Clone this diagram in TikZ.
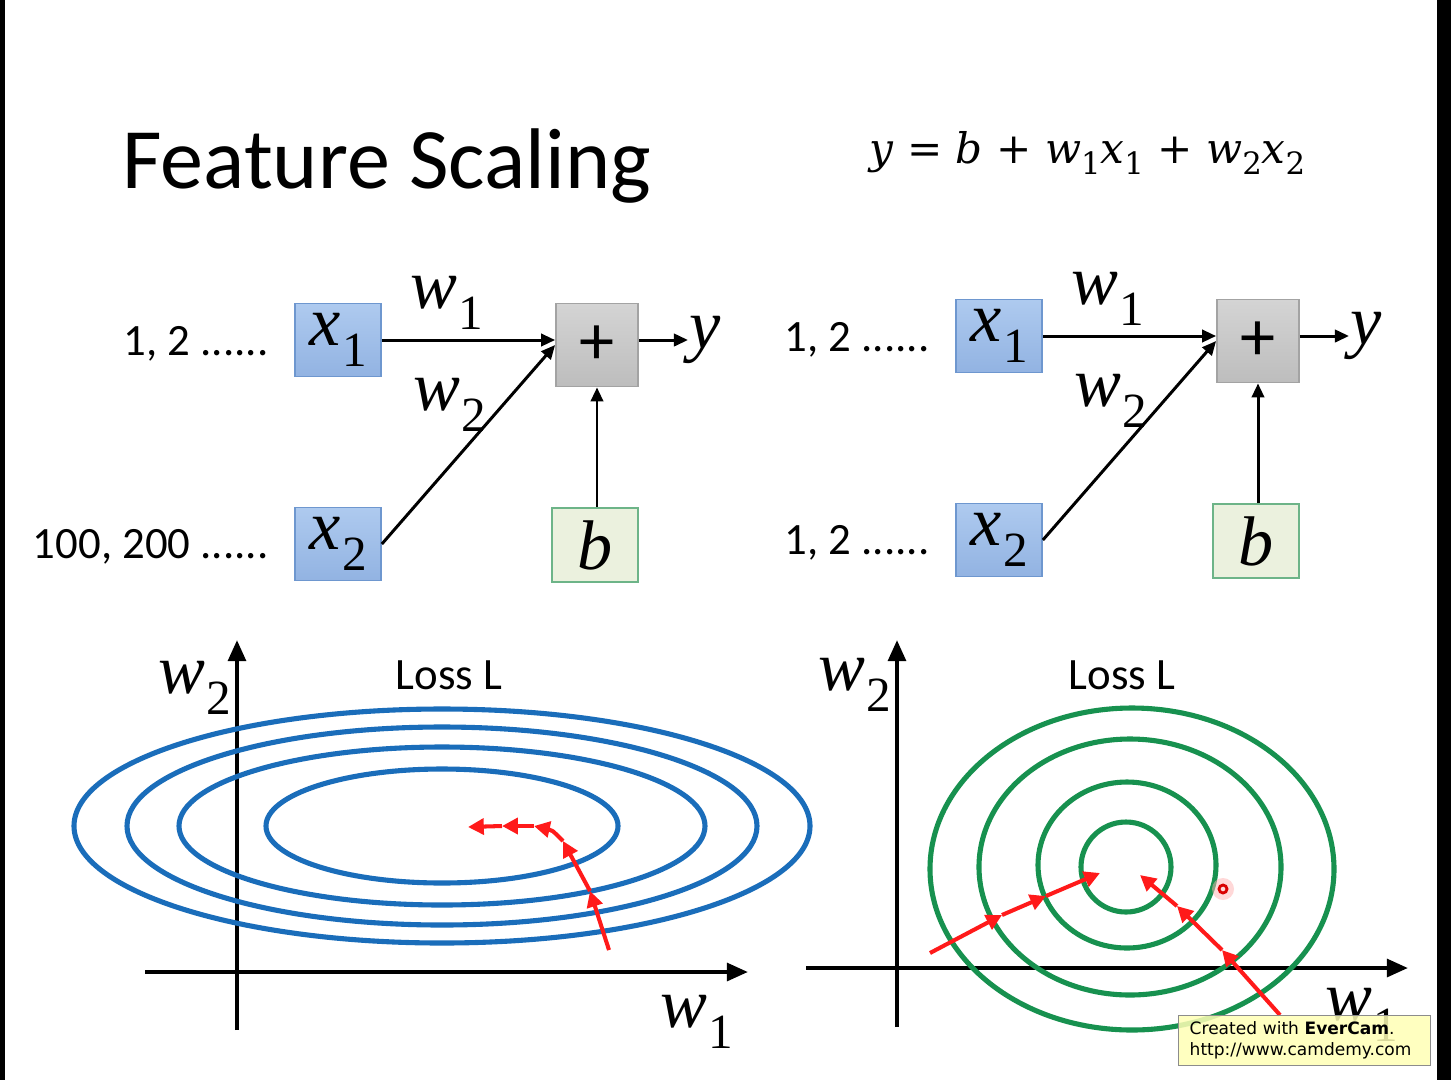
\documentclass[tikz,border=0pt]{standalone}
\usepackage{fontspec}
\setmainfont{Carlito}
\newfontfamily\tnrfont{Liberation Serif}
\newfontfamily\eqfont{DejaVu Serif}
\newfontfamily\markfont{DejaVu Sans}
\usetikzlibrary{arrows.meta, positioning}
\definecolor{cboxblue}{HTML}{92B3E2}
\definecolor{cboxbluetop}{HTML}{AECAEF}
\definecolor{cedgeblue}{HTML}{6E97CF}
\definecolor{cboxgrey}{HTML}{BDBDBD}
\definecolor{cboxgreytop}{HTML}{D4D4D4}
\definecolor{cedgegrey}{HTML}{A3A3A3}
\definecolor{cboxgreen}{HTML}{EBF1DE}
\definecolor{cedgegreen}{HTML}{6DB488}
\definecolor{closs}{HTML}{1A6DBA}
\definecolor{cring}{HTML}{17914F}
\definecolor{cstep}{HTML}{FF1A1A}
\definecolor{cwater}{HTML}{FFFFB5}
\newcommand{\varfont}{\tnrfont\itshape\fontsize{40}{44}\selectfont}
\newcommand{\lowidx}[1]{\kern0.02em\raisebox{-0.3em}{\upshape\fontsize{28}{30}\selectfont #1}}
\newcommand{\eqidx}[1]{\raisebox{-0.28em}{\upshape\fontsize{17.5}{20}\selectfont #1}}
\tikzset{
  every picture/.style={line width=1.7pt},
  inbox/.style={draw=cedgeblue, line width=1pt, top color=cboxbluetop, bottom color=cboxblue, minimum width=1.72cm, minimum height=1.46cm, inner sep=0pt, font=\varfont},
  sumbox/.style={draw=cedgegrey, line width=1pt, top color=cboxgreytop, bottom color=cboxgrey, minimum width=1.64cm, minimum height=1.66cm, inner sep=0pt, font=\fontsize{40}{44}\selectfont},
  biasbox/.style={draw=cedgegreen, line width=1pt, fill=cboxgreen, minimum width=1.72cm, minimum height=1.48cm, inner sep=0pt, font=\varfont},
  varlabel/.style={inner sep=0pt, font=\varfont},
  inlabel/.style={inner sep=0pt, font=\fontsize{25.5}{30}\selectfont},
  title/.style={inner sep=0pt, font=\fontsize{49}{58}\selectfont},
  conn/.style={-{Triangle[length=8pt,width=7pt]}, line width=1.7pt},
  axisline/.style={-{Triangle[length=12pt,width=10pt]}, line width=2.4pt},
  lossline/.style={draw=closs, line width=2.9pt},
  ringline/.style={draw=cring, line width=2.9pt},
  stepline/.style={-{Triangle[length=9pt,width=9pt]}, draw=cstep, line width=2.3pt},
  wmbox/.style={draw=black!45, line width=0.8pt, fill=cwater, fill opacity=0.85, text opacity=1, inner sep=0pt, text width=4.6cm, align=left, minimum width=5.04cm, minimum height=1cm, font=\markfont\fontsize{9.7}{12}\selectfont},
}
\newcommand{\netpanel}[4]{
  \begin{scope}[shift={(#1,#2)}]
    \node[inbox] (#4x1) at (338,340) {x\lowidx{1}};
    \node[inbox] (#4x2) at (338,544) {x\lowidx{2}};
    \node[sumbox] (#4plus) at (597,345) {+};
    \node[biasbox] (#4b) at (595,545) {b};
    \node[varlabel, anchor=west] (#4y) at (688,340) {y};
    \node[inlabel, anchor=base east] (#4in1) at (270,355) {1, 2 ......};
    \node[inlabel, anchor=base east] (#4in2) at (270,558) {#3};
    \node[varlabel] (#4w1) at (447,303) {w\lowidx{1}};
    \node[varlabel] (#4w2) at (450,405) {w\lowidx{2}};
    \draw[conn] (#4x1.east) -- (#4x1.east -| #4plus.west);
    \draw[conn] (#4x2.east) -- (#4plus.west);
    \draw[conn] (#4b.north -| #4plus.south) -- (#4plus.south);
    \draw[conn] (#4x1.east -| #4plus.east) -- (#4x1.east -| #4y.west);
  \end{scope}
}

\begin{document}
\begin{tikzpicture}[x=0.02cm, y=-0.02cm]
  \useasboundingbox (0,0) rectangle (1451,1080);
  \fill[white] (0,0) rectangle (1451,1080);
  \fill[black] (0,0) rectangle (5,1080);
  \fill[black] (1437,0) rectangle (1451,1080);

  \node[title, anchor=base west] (head) at (121,188) {Feature Scaling};
  \node[inner sep=0pt, anchor=base west, font=\eqfont\fontsize{24}{30}\selectfont] (model) at (868,163)
    {\textit{y} = \textit{b} + \textit{w}\eqidx{1}\textit{x}\eqidx{1} + \textit{w}\eqidx{2}\textit{x}\eqidx{2}};

  \netpanel{0}{0}{100, 200 ......}{L}
  \netpanel{661}{-4}{1, 2 ......}{R}

  % loss with unscaled features
  \draw[axisline] (237,1030) -- (237,640);
  \draw[axisline] (145,972) -- (748,972);
  \foreach \rx/\ry in {368/117, 315/99, 263/79, 176/57}
    \draw[lossline] (442,826) ellipse [x radius=\rx, y radius=\ry];
  \node[varlabel] (Lw2axis) at (195,688) {w\lowidx{2}};
  \node[varlabel] (Lw1axis) at (697,1022) {w\lowidx{1}};
  \node[inlabel] (Lloss) at (449,675) {Loss L};
  \foreach \a/\b/\c/\d in {609/950/590/891, 590/891/563/841, 534/826/502/826, 502/826/468/827}
    \draw[stepline] (\a,\b) -- (\c,\d);
  \draw[stepline] (563,841) .. controls (552,830) .. (534,826);

  % loss with scaled features
  \draw[axisline] (897,1027) -- (897,640);
  \draw[axisline] (806,968) -- (1408,968);
  \foreach \cx/\cy/\rx/\ry in {1132/869/202/161, 1130/867/151/128, 1127/865/89/83, 1126/867/45/45}
    \draw[ringline] (\cx,\cy) ellipse [x radius=\rx, y radius=\ry];
  \node[varlabel] (Rw2axis) at (855,685) {w\lowidx{2}};
  \node[varlabel] (Rw1axis) at (1362,1015) {w\lowidx{1}};
  \node[inlabel] (Rloss) at (1122,675) {Loss L};
  \foreach \a/\b/\c/\d in {930/953/1002/915, 1002/915/1046/896, 1046/896/1100/873, 1280/1015/1222/950, 1222/950/1177/906, 1177/906/1140/875}
    \draw[stepline] (\a,\b) -- (\c,\d);

  % recorder overlay
  \fill[red!30, opacity=0.5] (1223,889) circle [radius=11];
  \draw[red!85!black, line width=1.6pt] (1223,889) circle [radius=4];
  \node[wmbox, anchor=north west] (stamp) at (1178,1015) {Created with \textbf{EverCam}.\\http://www.camdemy.com};
\end{tikzpicture}
\end{document}
